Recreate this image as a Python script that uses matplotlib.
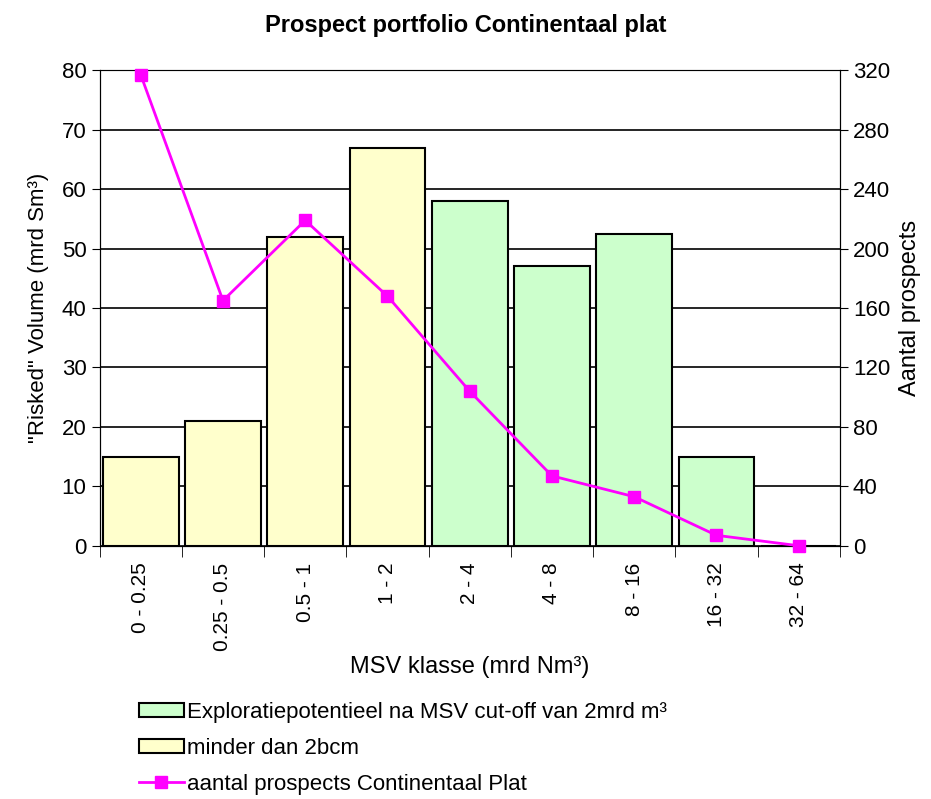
import matplotlib.pyplot as plt
import numpy as np
from matplotlib.patches import Patch
from matplotlib.lines import Line2D

plt.rcParams['font.family'] = ['Liberation Sans', 'DejaVu Sans']

# MSV classes and values
klassen = ['0 - 0.25', '0.25 - 0.5', '0.5 - 1', '1 - 2', '2 - 4', '4 - 8', '8 - 16', '16 - 32', '32 - 64']
volume = [15, 21, 52, 67, 58, 47, 52.5, 15, 0]
aantal = [317, 165, 219, 168, 104, 47, 33, 7, 0]
# first four classes are below the 2 bcm cut-off
onder_cutoff = [True, True, True, True, False, False, False, False, False]

geel = '#FFFFCC'
groen = '#CCFFCC'
magenta = '#FF00FF'

fig = plt.figure(figsize=(9.31, 7.99), dpi=100)
ax = fig.add_axes([0.107, 0.317, 0.795, 0.595])

x = np.arange(len(klassen))
kleuren = [geel if o else groen for o in onder_cutoff]
ax.bar(x, volume, width=0.92, color=kleuren, edgecolor='black', linewidth=1.5, zorder=2)

ax.set_xlim(-0.5, len(klassen) - 0.5)
ax.set_ylim(0, 80)
ax.set_yticks(range(0, 81, 10))
ax.set_axisbelow(True)
ax.grid(axis='y', color='black', linewidth=1.2, zorder=0)

ax.set_xticks(x)
ax.set_xticklabels(klassen, rotation=90, fontsize=15)
ax.set_xticks(np.arange(-0.5, len(klassen), 1), minor=True)
ax.tick_params(axis='x', which='major', length=0, pad=12)
ax.tick_params(axis='x', which='minor', length=8, direction='out', color='black')
ax.tick_params(axis='y', labelsize=16, length=6, direction='out')
ax.set_xlabel('MSV klasse (mrd Nm³)', fontsize=17, labelpad=4)
ax.set_ylabel('"Risked" Volume (mrd Sm³)', fontsize=16, labelpad=9)

for s in ['left', 'right', 'bottom']:
    ax.spines[s].set_color('black')
ax.spines['top'].set_color('#888888')

ax2 = ax.twinx()
ax2.plot(x, aantal, color=magenta, linewidth=2, marker='s', markersize=9, zorder=5, clip_on=False)
ax2.set_ylim(0, 320)
ax2.set_yticks(range(0, 321, 40))
ax2.tick_params(axis='y', labelsize=16, length=6, direction='out')
ax2.set_ylabel('Aantal prospects', fontsize=17, labelpad=6)

fig.text(0.5, 0.968, 'Prospect portfolio Continentaal plat', ha='center', va='center',
         fontsize=17, fontweight='bold')

handles = [Patch(facecolor=groen, edgecolor='black', linewidth=1.5),
           Patch(facecolor=geel, edgecolor='black', linewidth=1.5),
           Line2D([], [], color=magenta, linewidth=2, marker='s', markersize=9)]
labels = ['Exploratiepotentieel na MSV cut-off van 2mrd m³', 'minder dan 2bcm',
          'aantal prospects Continentaal Plat']
fig.legend(handles, labels, loc='upper left', bbox_to_anchor=(0.14, 0.133), frameon=False,
           fontsize=16, handlelength=2.0, handleheight=0.6, handletextpad=0.15, labelspacing=0.68,
           borderaxespad=0)

fig.savefig('out.png', dpi=100)
